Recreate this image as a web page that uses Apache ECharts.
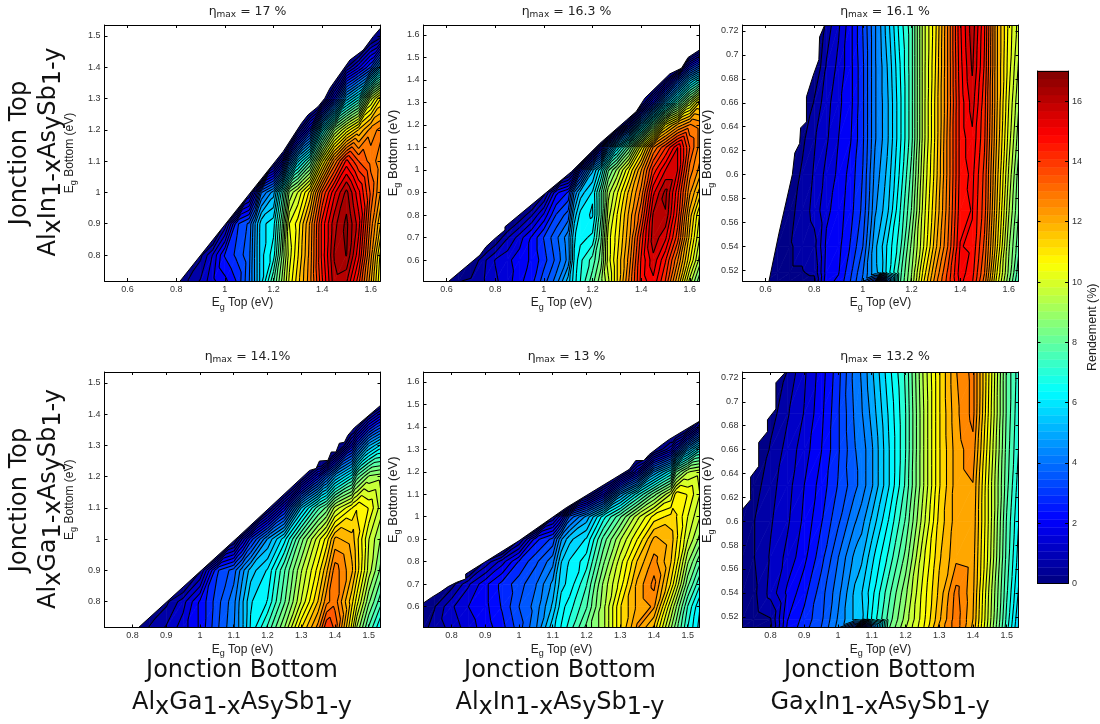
<!DOCTYPE html>
<html><head><meta charset="utf-8">
<style>html,body{margin:0;padding:0;background:#fff}#c{width:1100px;height:724px}</style>
<script src="https://cdn.jsdelivr.net/npm/echarts@6/dist/echarts.min.js"></script>
</head><body><div id="c"></div>
<script>
// Ticks
const ticksWideTop = [0.6,0.8,1,1.2,1.4,1.6];
const ticksWideBottom = [0.8,0.9,1,1.1,1.2,1.3,1.4,1.5];
const ticksYA = [0.8,0.9,1,1.1,1.2,1.3,1.4,1.5];
const ticksYB = [0.6,0.7,0.8,0.9,1,1.1,1.2,1.3,1.4,1.5,1.6];
const ticksYC = [0.52,0.54,0.56,0.58,0.6,0.62,0.64,0.66,0.68,0.7,0.72];
const ticksBar = [0,2,4,6,8,10,12,14,16];

// Panel 1: AlInAsSb top / AlGaAsSb bottom. Rows are right-aligned on the columns.
const p1X = [0.505,0.8,0.85,0.9,0.95,1,1.05,1.1,1.125,1.15,1.2,1.235,1.265,1.3,1.35,1.4,1.45,1.5,1.55,1.6,1.64];
const p1Y = [0.717,0.8,0.9,1,1.1,1.2,1.3,1.4,1.5,1.535];
const p1Z = [
 [.5,.9,1.6,2,2.6,3.8,4.8,5.8,7.6,9,10.3,11.3,12.6,14.4,16,15.8,14.2,12,10.2],
 [.3,1.3,2.6,3.1,3.7,4.8,5.8,6.6,8.5,10,11,12.5,14.6,16.2,16.6,15,12.5,10.5],
 [.5,2.9,3.5,4.7,5.8,6.2,8,10.2,10.8,12.4,14.6,16,16.7,15.5,13,11.5],
 [.3,1.8,3.8,4.9,7,9,9.8,11.2,13.6,15.2,16.3,15,13.5,12.3],
 [1.3,3.8,5.8,7.5,10.5,12.8,14.6,13.6,13,12.5],
 [2.5,6.2,8.8,10.3,11.5,12.5,12.9],
 [2.2,5.2,6.6,9.6,11],
 [1.6,3,5],
 [.2],
 []
];
const p1EdgeX = [.816,1.24,1.315,1.342,1.383,1.411,1.432,1.514,1.569,1.61,1.64];
const p1EdgeY = [.717,1.131,1.221,1.248,1.274,1.301,1.333,1.423,1.455,1.498,1.525];

// Panel 2
const p2X = [0.505,0.6,0.65,0.7,0.75,0.8,0.85,0.9,0.95,1,1.05,1.1,1.125,1.15,1.2,1.235,1.265,1.3,1.35,1.4,1.45,1.5,1.55,1.6,1.64];
const p2Y = [0.507,0.6,0.7,0.8,0.9,1,1.1,1.2,1.3,1.4,1.5,1.644];
const p2Z = [
 [.4,.5,.8,1.2,1.5,2,2.4,3.2,4,5.3,6.2,6.8,7.9,8.8,9.7,11,12.8,14.6,15.2,14,12,9.6,8.2],
 [.7,1.3,1.6,1.9,2.2,2.8,3.5,4.4,6,6.7,7.4,8.3,10,11,12.5,14.5,15.6,14.5,12.8,10.7,9.2],
 [.8,1.5,2.2,3,3.7,4.5,5.9,6.2,6.5,8,10,10.8,12.2,14.2,16,15.4,13.8,11.3,9.8],
 [.8,1.8,3,3.6,5.3,6.1,5.9,7.6,9.6,10.6,12,13.5,15.8,16.1,14.3,11.7,10.2],
 [.2,2,2.6,4.3,5.3,6,7.6,9.2,10.1,11.6,12.9,15.2,16.3,14.6,12.4,11.3],
 [.3,2.3,5,6.3,8,9,10.6,12.3,14.2,15.3,15.3,13,12.2],
 [1.5,4,6,8,10.5,12.8,14,15.3,13.6,12.6],
 [1.8,5.2,8,10.7,12,12.8,12.6],
 [2.2,5,7.2,9.4,11],
 [.4,3,5.3,6.5],
 [.3,1.5],
 []
];
const p2EdgeX = [.61,.737,.762,.799,.84,.84,1.114,1.23,1.34,1.38,1.415,1.518,1.566,1.593,1.64];
const p2EdgeY = [.507,.622,.659,.696,.733,.748,.993,1.118,1.222,1.26,1.319,1.427,1.452,1.5,1.533];

// Panel 3
const p3X = [0.505,0.6,0.65,0.7,0.75,0.8,0.85,0.9,0.95,1,1.05,1.07,1.1,1.15,1.2,1.25,1.3,1.35,1.4,1.45,1.5,1.55,1.6,1.64];
const p3Y = [0.511,0.518,0.54,0.57,0.6,0.63,0.66,0.69,0.725];
const p3Z = [
 [.3,.3,.3,.3,2,2.2,3,3.9,2.6,0,3.6,7.5,9,11,12.6,13.8,15,14.5,13,10.5,8.6,7.2],
 [.3,.4,.4,.5,1.9,2.1,2.9,3.8,5,5.2,6.1,7.4,8.9,10.8,12.4,13.7,15.1,14.6,13.2,10.7,8.8,7.4],
 [.2,.4,.5,.7,1.8,2,2.6,3.4,5,5.3,6,7,8.6,10.2,11.8,13.2,14.9,14.8,13.5,11.2,9,7.8],
 [.3,.6,1,1.6,1.9,2.4,3.1,4.6,4.9,5.4,6.7,8.1,10,11.5,13,14.7,14.9,13.8,11.5,9.4,8.1],
 [.1,.5,.9,1.4,1.8,2.3,3,4.4,4.7,5.2,6.4,7.8,9.8,11.3,12.9,14.6,15,13.9,11.7,9.7,8.3],
 [.3,.8,1.2,1.7,2.1,2.9,4.2,4.5,5,6.2,7.5,9.6,11.2,12.9,14.6,15.2,14.1,11.9,10,8.7],
 [.5,1.1,1.6,2,2.9,4.2,4.5,5,6.2,7.5,9.6,11.2,12.8,14.6,15.5,14.2,12,10.2,9],
 [.9,1.4,2,2.9,4.2,4.5,5.1,6.3,7.5,9.6,11.1,12.8,14.7,15.8,14.4,12,10.4,9.3],
 [.6,1.2,2,3,4.2,4.6,5.3,6.5,7.5,9.6,11,12.8,14.8,16,14.5,12,10.5,9.6]
];
const p3EdgeX = [.614,.655,.71,.72,.74,.744,.768,.768,.796,.819,.822,.843];
const p3EdgeY = [.511,.551,.6,.618,.626,.639,.644,.665,.683,.696,.715,.725];

// Panel 4
const p4X = [0.717,0.8,0.85,0.9,0.95,1,1.05,1.1,1.125,1.15,1.2,1.25,1.3,1.35,1.375,1.4,1.45,1.465,1.5,1.535];
const p4Y = [0.717,0.8,0.9,1,1.1,1.2,1.3,1.4,1.535];
const p4Z = [
 [.5,.9,1.5,2.2,3.3,4.2,5,6,7.3,8.9,11,12.5,14,13.5,10.5,9.3,7.6,6.4],
 [.3,1.1,2.2,3.2,4.1,5,5.9,6.4,8,9.8,11.5,12.6,13,11.2,10.4,8.6,7.4],
 [.3,2.9,3.6,4.5,5.3,6,7.6,9.3,10.8,11.8,13,12,11.3,9.6,8.4],
 [1.3,2.7,4.7,6.2,8.3,10,10.8,12,11.7,11.2,9.8,8.9],
 [2.2,5.5,7.5,8.2,9.5,10.6,11,10.6,9.6],
 [2.2,3.6,5,6.6,7.8,9,9.2],
 [1.8,3,5,6],
 [.1,1.4],
 []
];
const p4EdgeX = [.818,1.113,1.325,1.344,1.354,1.379,1.389,1.403,1.413,1.428,1.438,1.457,1.535];
const p4EdgeY = [.717,1.007,1.22,1.226,1.25,1.252,1.279,1.279,1.307,1.31,1.332,1.356,1.428];

// Panel 5
const p5X = [0.717,0.75,0.8,0.85,0.9,0.95,1,1.05,1.1,1.125,1.15,1.2,1.25,1.3,1.35,1.4,1.45,1.465,1.5,1.535];
const p5Y = [0.507,0.6,0.7,0.8,0.9,1,1.1,1.2,1.3,1.4,1.644];
const p5Z = [
 [.3,.6,1,1.5,1.9,2.4,3.2,4.2,5.8,6.4,7,8.2,9.2,11,12.4,11.4,9,8.3,6.8,5.8],
 [.1,.4,1.2,1.7,2,2.6,3.4,4,5.2,6.2,6.6,7.6,9.2,11,12,12.4,9.8,9,7.2,6],
 [.2,1.2,2,2.7,3.2,3.8,4.8,5.8,6.1,7.2,9,10.4,12,12.9,11,10.2,8.2,6.9],
 [.5,1.5,2.6,3.3,4.1,5.5,6,6.6,8.4,10,11.5,12.5,11.5,10.9,9,7.8],
 [.3,2.4,3.1,4.6,5.4,6,7.8,9.3,10.6,12,11.7,11.2,9.8,8.8],
 [.4,1.6,3.5,4.8,6.6,8,9.6,10.8,11.2,11.1,10.2,9.4],
 [1.8,4.7,6.6,8.3,9.8,10.8,10.6,9.8],
 [1.6,4.6,6.3,8,9.3,9.6],
 [1.2,2.4,4.8,6.5],
 [1.6],
 []
];
const p5EdgeX = [.716,.741,.766,.79,.815,.842,.842,1,1.14,1.327,1.346,1.37,1.386,1.425,1.445,1.535];
const p5EdgeY = [.615,.641,.664,.689,.708,.723,.745,.893,1.04,1.211,1.25,1.25,1.277,1.322,1.344,1.425];

// Panel 6
const p6X = [0.717,0.75,0.8,0.85,0.9,0.95,1,1.05,1.07,1.1,1.15,1.2,1.25,1.3,1.35,1.4,1.45,1.5,1.535];
const p6Y = [0.511,0.518,0.54,0.57,0.6,0.63,0.66,0.69,0.725];
const p6Z = [
 [.2,.2,.3,2.2,2.8,3.4,4.4,2.4,0,3.6,8,9.3,10.5,12,13,11.8,9.4,7,5.5],
 [.2,.2,.4,2.1,2.7,3.3,4.3,5.2,5.4,6.4,7.8,9.1,10.4,11.8,13,11.9,9.5,7.1,5.6],
 [.2,.3,1,1.8,2.4,3.2,4.1,5.2,5.5,6.2,7.5,8.8,10.3,11.6,12.9,12,9.6,7.3,5.9],
 [.2,.4,.9,1.4,2,2.8,3.8,4.8,5,5.8,6.9,8.2,10,11.4,12.2,12.1,9.9,7.5,6.2],
 [.1,.4,.8,1.2,1.8,2.5,3.3,4.2,4.5,5.2,6.4,7.7,9.5,11.2,12.1,12.2,10,7.6,6.4],
 [.2,.7,1.1,1.7,2.3,3,3.7,4,4.6,5.9,7.3,9.2,11,12.1,12.3,10,7.8,6.6],
 [.5,1,1.5,2.1,2.9,3.8,4,4.6,5.9,7.2,9.2,11,12.1,12.6,10.2,7.9,6.8],
 [.2,.8,1.3,2,2.9,3.9,4.2,4.8,6,7.2,9.2,11,12.2,12.9,10.4,8,6.9],
 [.5,1.2,1.9,2.8,4,4.3,5,6.2,7.3,9.3,11,12.3,12.9,10.5,8,7]
];
const p6EdgeX = [.717,.741,.741,.765,.765,.791,.791,.816,.816,.845];
const p6EdgeY = [.61,.618,.637,.646,.666,.675,.685,.694,.716,.725];

const titlesEta = ['17 %','16.3 %','16.1 %','14.1%','13 %','13.2 %'];

const rangeXTop = [0.505,1.64], rangeXBottom = [0.717,1.535];
const rangeYA = [0.717,1.535], rangeYB = [0.507,1.644], rangeYC = [0.511,0.725];
const panels = [
 {X:p1X,Y:p1Y,Z:p1Z,eX:p1EdgeX,eY:p1EdgeY,rx:rangeXTop,ry:rangeYA,tx:ticksWideTop,ty:ticksYA,left:104.5,top:25,h:256,nameSize:12,gap:26},
 {X:p2X,Y:p2Y,Z:p2Z,eX:p2EdgeX,eY:p2EdgeY,rx:rangeXTop,ry:rangeYB,tx:ticksWideTop,ty:ticksYB,left:423.5,top:25,h:256,nameSize:13,gap:21},
 {X:p3X,Y:p3Y,Z:p3Z,eX:p3EdgeX,eY:p3EdgeY,rx:rangeXTop,ry:rangeYC,tx:ticksWideTop,ty:ticksYC,left:742.5,top:25,h:256,nameSize:13,gap:26},
 {X:p4X,Y:p4Y,Z:p4Z,eX:p4EdgeX,eY:p4EdgeY,rx:rangeXBottom,ry:rangeYA,tx:ticksWideBottom,ty:ticksYA,left:104.5,top:372,h:255.5,nameSize:12,gap:26},
 {X:p5X,Y:p5Y,Z:p5Z,eX:p5EdgeX,eY:p5EdgeY,rx:rangeXBottom,ry:rangeYB,tx:ticksWideBottom,ty:ticksYB,left:423.5,top:372,h:255.5,nameSize:13,gap:21},
 {X:p6X,Y:p6Y,Z:p6Z,eX:p6EdgeX,eY:p6EdgeY,rx:rangeXBottom,ry:rangeYC,tx:ticksWideBottom,ty:ticksYC,left:742.5,top:372,h:255.5,nameSize:13,gap:26}
];
const W = 276, ZMAX = 17, STEP = 17/40, NCOL = 64;

function clamp01(a){return Math.max(0,Math.min(1,a));}
function jet(p){
  const r=clamp01(Math.min(4*p-1.5,-4*p+4.5)),g=clamp01(Math.min(4*p-.5,-4*p+3.5)),b=clamp01(Math.min(4*p+.5,-4*p+2.5));
  return 'rgb('+Math.round(r*255)+','+Math.round(g*255)+','+Math.round(b*255)+')';
}
function bandColor(v){
  const i=Math.max(0,Math.min(NCOL-1,Math.floor(v/ZMAX*NCOL)));
  return jet((i+.5)/NCOL);
}
function edgeAt(p,x){
  const ex=p.eX,ey=p.eY;
  if(x<ex[0]) return -Infinity;
  for(let i=1;i<ex.length;i++){
    if(x<=ex[i]){ const d=ex[i]-ex[i-1]; return d<=0?ey[i]:ey[i-1]+(ey[i]-ey[i-1])*(x-ex[i-1])/d; }
  }
  return ey[ey.length-1];
}
// Below-the-mask helper values so that bands run down to the edge of the valid region
function fullGrid(p){
  const nx=p.X.length;
  const g=p.Z.map(r=>{const o=new Array(nx).fill(null);r.forEach((v,k)=>o[nx-r.length+k]=v);return o;});
  for(let i=0;i<nx;i++){
    let last=-1;
    for(let j=0;j<p.Y.length;j++) if(g[j][i]!==null) last=j;
    const e=edgeAt(p,p.X[i]);
    for(let j=0;j<p.Y.length;j++){
      if(g[j][i]!==null) continue;
      if(last<0){g[j][i]=-1.5;continue;}
      const span=e-p.Y[last];
      g[j][i]= span>0.004 ? Math.max(-6,g[last][i]*(1-(p.Y[j]-p.Y[last])/span)) : -1.5;
    }
  }
  return g;
}
function clipTri(poly,lo,hi){
  function clip(pts,keep,lev){
    const out=[];
    for(let i=0;i<pts.length;i++){
      const a=pts[i],b=pts[(i+1)%pts.length],ka=keep(a[2]),kb=keep(b[2]);
      if(ka) out.push(a);
      if(ka!==kb){const t=(lev-a[2])/(b[2]-a[2]);out.push([a[0]+(b[0]-a[0])*t,a[1]+(b[1]-a[1])*t,lev]);}
    }
    return out;
  }
  let r=poly;
  if(lo>-Infinity) r=clip(r,v=>v>=lo,lo);
  if(r.length&&hi<Infinity) r=clip(r,v=>v<=hi,hi);
  return r;
}
function cellTris(api,p,g){
  const i=api.value(2),j=api.value(3);
  const c=(a,b)=>{const q=api.coord([p.X[a],p.Y[b]]);return [q[0],q[1],g[b][a]];};
  const A=c(i,j),B=c(i+1,j),C=c(i+1,j+1),D=c(i,j+1);
  return [[A,B,C],[A,C,D]];
}
const series=[], grid=[], xAxis=[], yAxis=[], title=[];
function axisBase(extra){
  return Object.assign({type:'value',z:10,axisLine:{show:true,onZero:false,lineStyle:{color:'#000',width:1}},splitLine:{show:false}},extra);
}
const lab={color:'#333',fontFamily:'Liberation Sans, Arial',fontSize:9};
panels.forEach((p,k)=>{
  grid.push({left:p.left,top:p.top,width:W,height:p.h,containLabel:false});
  const nameRich={b:{fontFamily:'Liberation Sans',fontSize:12,color:'#222'},s:{fontFamily:'Liberation Sans',fontSize:9,color:'#222',padding:[9,0,0,0]}};
  const yRich={b:{fontFamily:'Liberation Sans',fontSize:p.nameSize,color:'#222'},s:{fontFamily:'Liberation Sans',fontSize:9,color:'#222',padding:[9,0,0,0]}};
  xAxis.push(axisBase({gridIndex:k,position:'bottom',min:p.rx[0],max:p.rx[1],
    axisTick:{inside:true,length:3,lineStyle:{color:'#000'},customValues:p.tx},
    axisLabel:Object.assign({customValues:p.tx,margin:4},lab),
    name:'{b|E}{s|g}{b| Top (eV)}',nameLocation:'middle',nameGap:13,nameTextStyle:{rich:nameRich}}));
  xAxis.push(axisBase({gridIndex:k,position:'top',min:p.rx[0],max:p.rx[1],
    axisTick:{inside:true,length:3,lineStyle:{color:'#000'},customValues:p.tx},axisLabel:{show:false}}));
  yAxis.push(axisBase({gridIndex:k,position:'left',min:p.ry[0],max:p.ry[1],
    axisTick:{inside:true,length:3,lineStyle:{color:'#000'},customValues:p.ty},
    axisLabel:Object.assign({customValues:p.ty,margin:4},lab),
    name:'{b|E}{s|g}{b| Bottom (eV)}',nameLocation:'middle',nameGap:p.gap,nameRotate:90,nameTextStyle:{rich:yRich}}));
  yAxis.push(axisBase({gridIndex:k,position:'right',min:p.ry[0],max:p.ry[1],
    axisTick:{inside:true,length:3,lineStyle:{color:'#000'},customValues:p.ty},axisLabel:{show:false}}));
  const g=fullGrid(p), cells=[];
  for(let j=0;j<p.Y.length-1;j++) for(let i=0;i<p.X.length-1;i++) cells.push([p.X[i],p.Y[j],i,j]);
  const ax={xAxisIndex:k*2,yAxisIndex:k*2,coordinateSystem:'cartesian2d',animation:false,silent:true,progressive:0,encode:{x:0,y:1},clip:true};
  series.push(Object.assign({type:'custom',z:2,data:cells,renderItem(params,api){
    const kids=[];
    cellTris(api,p,g).forEach(t=>{
      const vs=t.map(q=>q[2]);
      const lo=Math.min(...vs),hi=Math.max(...vs);
      const b0=Math.max(0,Math.floor(lo/STEP)),b1=Math.max(0,Math.floor(hi/STEP));
      for(let b=b0;b<=b1;b++){
        const a=b===0?-Infinity:b*STEP,c=(b+1)*STEP;
        const poly=clipTri(t,a,c);
        if(poly.length<3) continue;
        const col=bandColor((b+.5)*STEP);
        kids.push({type:'polygon',shape:{points:poly.map(q=>[q[0],q[1]])},style:{fill:col,stroke:col,lineWidth:.7}});
      }
    });
    return {type:'group',children:kids};
  }},ax));
  series.push(Object.assign({type:'custom',z:3,data:cells,renderItem(params,api){
    const kids=[];
    cellTris(api,p,g).forEach(t=>{
      const vs=t.map(q=>q[2]);
      const lo=Math.min(...vs),hi=Math.max(...vs);
      for(let n=Math.max(1,Math.ceil(lo/STEP));n*STEP<=hi;n++){
        const L=n*STEP,pts=[];
        for(let e=0;e<3;e++){
          const a=t[e],b=t[(e+1)%3];
          if((a[2]<L)!==(b[2]<L)){const f=(L-a[2])/(b[2]-a[2]);pts.push([a[0]+(b[0]-a[0])*f,a[1]+(b[1]-a[1])*f]);}
        }
        if(pts.length===2) kids.push({type:'line',shape:{x1:pts[0][0],y1:pts[0][1],x2:pts[1][0],y2:pts[1][1]},style:{stroke:'#000',lineWidth:1.05}});
      }
    });
    return {type:'group',children:kids};
  }},ax));
  const edge=p.eX.map((x,i)=>[x,p.eY[i]]);
  series.push(Object.assign({type:'custom',z:4,data:edge,renderItem(params,api){
    if(params.dataIndex!==0) return null;
    const e=edge.map(q=>api.coord(q));
    const last=edge[edge.length-1][0];
    const poly=e.concat([api.coord([last,p.ry[1]]),api.coord([p.rx[0],p.ry[1]]),api.coord([p.rx[0],p.ry[0]])]);
    return {type:'group',children:[
      {type:'polygon',shape:{points:poly},style:{fill:'#fff'}},
      {type:'polyline',shape:{points:e},style:{stroke:'#000',fill:null,lineWidth:1}}
    ]};
  }},{xAxisIndex:k*2,yAxisIndex:k*2,coordinateSystem:'cartesian2d',animation:false,silent:true,encode:{x:0,y:1}}));
  title.push({text:'{n|η}{m|max}{n| = '+titlesEta[k]+'}',left:p.left+W/2-(k%3===2?0.5:0),top:p.top-(k<3?18:20),textAlign:'center',textVerticalAlign:'middle',
    textStyle:{fontWeight:'normal',rich:{n:{fontFamily:'DejaVu Sans',fontWeight:'normal',fontSize:12.5,color:'#222'},m:{fontFamily:'DejaVu Sans',fontWeight:'normal',fontSize:9,color:'#222',padding:[6,0,0,0]}}}});
});
// Colour bar
const barBands = Array.from({length:NCOL},(_,i)=>i);
const kb=panels.length;
grid.push({left:1037.5,top:71,width:31.5,height:512.5});
xAxis.push(axisBase({gridIndex:kb,position:'bottom',min:0,max:1,axisTick:{show:false},axisLabel:{show:false}}));
xAxis.push(axisBase({gridIndex:kb,position:'top',min:0,max:1,axisTick:{show:false},axisLabel:{show:false}}));
yAxis.push(axisBase({gridIndex:kb,position:'right',min:0,max:ZMAX,
  axisTick:{inside:true,length:3,lineStyle:{color:'#000'},customValues:ticksBar},
  axisLabel:Object.assign({customValues:ticksBar,margin:4},lab),
  name:'Rendement (%)',nameLocation:'middle',nameRotate:90,nameGap:17,nameTextStyle:{fontFamily:'Liberation Sans',fontSize:12.5,color:'#222'}}));
yAxis.push(axisBase({gridIndex:kb,position:'left',min:0,max:ZMAX,
  axisTick:{inside:true,length:3,lineStyle:{color:'#000'},customValues:ticksBar},axisLabel:{show:false}}));
series.push({type:'custom',xAxisIndex:kb*2,yAxisIndex:kb*2,coordinateSystem:'cartesian2d',animation:false,silent:true,z:2,
  data:barBands.map(i=>[0,i*ZMAX/NCOL,i]),encode:{x:0,y:1},
  renderItem(params,api){
    const i=api.value(2);
    const a=api.coord([0,i*ZMAX/NCOL]),b=api.coord([1,(i+1)*ZMAX/NCOL]);
    const col=jet((i+.5)/NCOL);
    return {type:'rect',shape:{x:a[0],y:b[1],width:b[0]-a[0],height:a[1]-b[1]},style:{fill:col,stroke:col,lineWidth:.4}};
  }});

// Large labels
const bigStyle={fontFamily:'DejaVu Sans',fontSize:24,fill:'#111',textAlign:'center',textVerticalAlign:'middle'};
const bigRich={a:{fontFamily:'DejaVu Sans',fontSize:24,color:'#111'},s:{fontFamily:'DejaVu Sans',fontSize:24,color:'#111',padding:[10,0,0,0]}};
function bigText(text,x,y,rot){
  return {type:'text',x:x,y:y,rotation:rot?Math.PI/2:0,silent:true,style:Object.assign({text:text,rich:bigRich},bigStyle)};
}
const topNames=['{a|Al}{s|x}{a|In}{s|1-x}{a|As}{s|y}{a|Sb}{s|1-y}','{a|Al}{s|x}{a|Ga}{s|1-x}{a|As}{s|y}{a|Sb}{s|1-y}'];
const bottomNames=['{a|Al}{s|x}{a|Ga}{s|1-x}{a|As}{s|y}{a|Sb}{s|1-y}','{a|Al}{s|x}{a|In}{s|1-x}{a|As}{s|y}{a|Sb}{s|1-y}','{a|Ga}{s|x}{a|In}{s|1-x}{a|As}{s|y}{a|Sb}{s|1-y}'];
const graphic=[
  bigText('{a|Jonction Top}',20,153,true),bigText(topNames[0],49,152,true),
  bigText('{a|Jonction Top}',20,500,true),bigText(topNames[1],49,499,true),
  bigText('{a|Jonction Bottom}',242,671,false),bigText(bottomNames[0],242,703,false),
  bigText('{a|Jonction Bottom}',560,671,false),bigText(bottomNames[1],560,703,false),
  bigText('{a|Jonction Bottom}',880,671,false),bigText(bottomNames[2],880,703,false)
];
const chart=echarts.init(document.getElementById('c'),null,{renderer:'canvas'});
chart.setOption({animation:false,backgroundColor:'#fff',title,grid,xAxis,yAxis,series,graphic});
</script></body></html>
